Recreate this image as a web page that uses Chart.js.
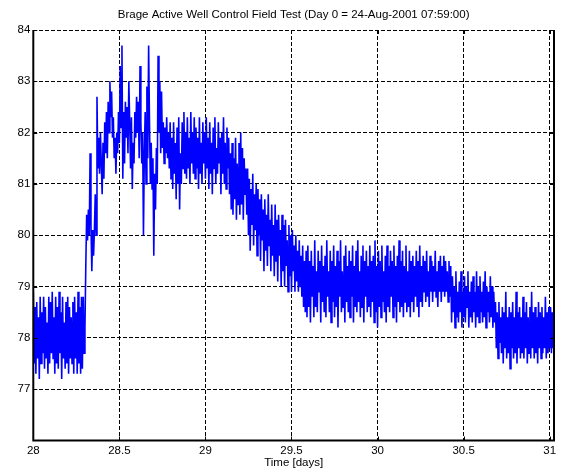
<!DOCTYPE html>
<html>
<head>
<meta charset="utf-8">
<script src="https://cdn.jsdelivr.net/npm/chart.js@4"></script>
<style>
  html, body { margin: 0; padding: 0; background: #fff; }
  canvas { display: block; }
</style>
</head>
<body>
<canvas id="wellChart" width="563" height="473"></canvas>
<script>
const chartTitle = 'Brage Active Well Control Field Test (Day 0 = 24-Aug-2001 07:59:00)';
const xLabel = 'Time [days]';

// logged samples: first one at day 28, then one every 0.005 day
const startDay = 28;
const stepDays = 0.005;
const pressure = [
    // 28.00
    78.9, 77.5, 78.6, 77.3, 78.7, 77.6, 78.4, 77.2, 78.8, 77.5,
    78.5, 77.7, 78.8, 77.4, 78.6, 77.6, 78.3, 77.3, 78.8, 77.5,
    78.7, 77.7, 78.9, 77.6, 78.4, 77.3, 78.8, 77.5, 78.6, 77.4,
    78.9, 77.7, 78.5, 77.2, 78.8, 77.6, 78.3, 77.4, 78.7, 77.5,
    78.8, 77.3, 78.6, 77.6, 78.4, 77.5, 78.7, 77.3, 78.8, 77.6,
    78.5, 77.3, 78.9, 77.5, 78.6, 77.3, 78.8, 77.4, 78.8, 77.7,
    // 28.30
    78.2, 79.4, 80.4, 79.9, 80.5, 80.0, 81.6, 80.2, 79.3, 80.1,
    79.6, 80.1, 80.8, 80.0, 82.7, 81.3, 81.9, 81.2, 82.0, 81.4,
    80.8, 81.8, 81.1, 82.2, 81.6, 82.4, 81.5, 82.6, 82.0, 83.0,
    82.3, 82.8, 81.9, 82.3, 81.5, 81.9, 81.2, 82.0, 81.6, 82.4,
    // 28.50
    81.8, 83.3, 82.1, 83.7, 81.1, 82.4, 81.4, 82.6, 81.9, 82.5,
    81.6, 83.0, 82.2, 81.3, 82.3, 80.9, 81.8, 81.4, 82.4, 81.9,
    82.7, 82.0, 82.6, 81.5, 83.3, 82.2, 81.4, 82.0, 80.0, 81.6,
    82.4, 81.0, 82.9, 81.5, 83.7, 82.2, 81.0, 81.8, 80.9, 81.5,
    79.6, 81.2, 80.5, 81.7, 81.0, 83.5, 82.0, 83.0, 81.6, 82.8,
    // 28.75
    81.7, 82.2, 81.4, 82.1, 81.6, 82.3, 81.5, 82.0, 81.3, 82.2,
    81.1, 81.9, 80.9, 82.2, 81.2, 81.8, 80.7, 82.1, 81.0, 82.3,
    80.5, 81.6, 81.0, 82.2, 81.3, 82.4, 81.2, 82.0, 81.1, 82.3,
    81.3, 81.9, 81.0, 82.4, 81.4, 82.0, 81.2, 82.3, 81.1, 82.1,
    81.3, 81.9, 80.9, 82.3, 81.2, 81.8, 81.0, 82.2, 81.4, 82.0,
    // 29.00
    81.1, 82.3, 81.3, 81.9, 80.9, 82.2, 81.2, 81.8, 80.8, 82.1,
    81.3, 82.3, 81.0, 81.7, 81.2, 82.2, 81.4, 81.9, 80.8, 82.0,
    81.2, 82.3, 81.0, 81.8, 80.9, 82.1, 81.3, 81.9, 80.8, 81.6,
    80.5, 81.8, 80.4, 81.5, 80.7, 81.9, 80.3, 81.4, 80.6, 81.8,
    80.4, 82.0, 80.6, 81.7, 80.3, 81.5, 80.8, 81.3, 80.4, 81.3,
    // 29.25
    80.0, 81.1, 79.7, 80.9, 80.2, 81.2, 79.8, 80.8, 80.1, 81.0,
    79.6, 80.9, 80.0, 80.7, 79.5, 80.8, 79.9, 80.5, 79.3, 80.7,
    79.7, 80.4, 79.4, 80.8, 79.8, 80.3, 79.3, 80.6, 79.6, 80.2,
    79.2, 80.6, 79.5, 80.3, 79.1, 80.4, 79.6, 80.1, 79.0, 80.4,
    79.3, 80.2, 79.0, 80.3, 79.4, 79.9, 78.9, 80.2, 79.2, 80.0,
    // 29.50
    78.9, 80.1, 79.3, 79.8, 78.9, 80.0, 79.1, 79.7, 78.9, 79.9,
    79.0, 79.6, 78.8, 79.8, 78.6, 79.5, 78.5, 79.7, 78.4, 79.8,
    78.6, 79.5, 78.3, 79.7, 78.8, 79.4, 78.4, 79.9, 78.6, 79.3,
    78.5, 79.7, 78.9, 79.5, 78.3, 79.8, 78.7, 79.4, 78.5, 79.6,
    78.4, 79.9, 78.8, 79.3, 78.5, 79.7, 78.3, 79.5, 78.7, 79.8,
    // 29.75
    78.4, 79.4, 78.6, 79.7, 78.2, 79.5, 78.8, 79.9, 78.5, 79.3,
    78.6, 79.6, 78.3, 79.8, 78.7, 79.4, 78.5, 79.7, 78.4, 79.5,
    78.8, 79.8, 78.3, 79.4, 78.6, 79.7, 78.5, 79.9, 78.7, 79.3,
    78.4, 79.6, 78.6, 79.8, 78.3, 79.5, 78.8, 79.7, 78.5, 79.4,
    78.6, 79.8, 78.4, 79.5, 78.7, 79.6, 78.3, 79.9, 78.5, 79.4,
    // 30.00
    78.2, 79.7, 78.6, 79.5, 78.4, 79.8, 78.7, 79.3, 78.5, 79.6,
    78.3, 79.8, 78.6, 79.4, 78.5, 79.7, 78.8, 79.5, 78.4, 79.8,
    78.6, 79.4, 78.3, 79.6, 78.7, 79.9, 78.5, 79.5, 78.6, 79.7,
    78.4, 79.4, 78.7, 79.8, 78.5, 79.3, 78.6, 79.7, 78.4, 79.5,
    78.7, 79.6, 78.5, 79.4, 78.8, 79.7, 78.6, 79.5, 78.4, 79.8,
    // 30.25
    78.7, 79.4, 78.6, 79.6, 78.9, 79.5, 78.7, 79.7, 78.8, 79.3,
    78.6, 79.6, 78.9, 79.5, 78.7, 79.4, 78.9, 79.7, 78.8, 79.3,
    78.6, 79.5, 78.9, 79.6, 78.7, 79.4, 78.9, 79.6, 78.8, 79.5,
    78.9, 79.3, 78.7, 79.5, 78.8, 79.4, 78.3, 79.2, 78.5, 79.0,
    78.2, 79.3, 78.4, 78.9, 78.3, 79.1, 78.5, 79.3, 78.2, 78.9,
    // 30.50
    78.4, 79.2, 78.3, 79.0, 78.6, 79.3, 78.2, 78.9, 78.4, 79.1,
    78.3, 79.2, 78.5, 78.9, 78.2, 79.3, 78.4, 79.0, 78.3, 79.2,
    78.5, 78.9, 78.3, 79.1, 78.4, 79.3, 78.2, 79.0, 78.5, 78.9,
    78.3, 79.2, 78.4, 79.0, 78.2, 78.9, 78.3, 78.7, 77.8, 78.5,
    77.6, 78.7, 77.9, 78.4, 77.7, 78.6, 77.5, 78.5, 77.8, 78.9,
    // 30.75
    77.6, 78.4, 77.7, 78.6, 77.4, 78.5, 77.8, 78.7, 77.6, 78.4,
    77.7, 78.9, 77.5, 78.5, 77.8, 78.6, 77.6, 78.4, 77.7, 78.8,
    77.6, 78.5, 77.8, 78.7, 77.5, 78.4, 77.7, 78.6, 77.6, 78.9,
    77.8, 78.5, 77.6, 78.6, 77.7, 78.4, 77.5, 78.7, 77.8, 78.5,
    77.6, 78.6, 77.7, 78.4, 77.8, 78.8, 77.6, 78.5, 77.7, 78.6,
    // 31.00
    77.8, 78.6, 77.7, 78.5, 77.8, 78.6
];

const xRange = [28, 31.025];
const yRange = [76, 84];
const xTicks = [28, 28.5, 29, 29.5, 30, 30.5, 31];
const yTicks = [77, 78, 79, 80, 81, 82, 83, 84];

const points = pressure.map((v, i) => ({ x: startDay + i * stepDays, y: v }));

const fontFamily = '"Liberation Sans", Arial, sans-serif';

// matlab style box: solid left/right/bottom edges, inward ticks, title over the axes
const axesBox = {
    id: 'axesBox',
    afterDraw(chart) {
        const { ctx, chartArea: a, scales } = chart;
        ctx.save();
        ctx.strokeStyle = '#000';
        ctx.lineWidth = 1;
        ctx.beginPath();
        xTicks.forEach(v => {
            const px = Math.round(scales.x.getPixelForValue(v)) + 0.5;
            ctx.moveTo(px, a.bottom); ctx.lineTo(px, a.bottom - 4);
            ctx.moveTo(px, a.top); ctx.lineTo(px, a.top + 4);
        });
        yTicks.forEach(v => {
            const py = Math.round(scales.y.getPixelForValue(v)) + 0.5;
            ctx.moveTo(a.left, py); ctx.lineTo(a.left + 4, py);
            ctx.moveTo(a.right, py); ctx.lineTo(a.right - 4, py);
        });
        ctx.stroke();

        ctx.lineWidth = 2;
        ctx.beginPath();
        ctx.moveTo(a.left, a.top);
        ctx.lineTo(a.left, a.bottom);
        ctx.lineTo(a.right, a.bottom);
        ctx.lineTo(a.right, a.top);
        ctx.stroke();

        ctx.fillStyle = '#000';
        ctx.font = '11.5px ' + fontFamily;
        ctx.textAlign = 'center';
        ctx.textBaseline = 'middle';
        ctx.fillText(chartTitle, (a.left + a.right) / 2, 15);
        ctx.restore();
    }
};

const ctx = document.getElementById('wellChart').getContext('2d');
new Chart(ctx, {
    type: 'line',
    data: {
        datasets: [{
            data: points,
            borderColor: '#0000ff',
            borderWidth: 1.6,
            pointRadius: 0,
            tension: 0,
            fill: false
        }]
    },
    options: {
        responsive: false,
        animation: false,
        events: [],
        layout: { padding: { top: 30, right: 9, bottom: 0, left: 0 } },
        plugins: {
            legend: { display: false },
            tooltip: { enabled: false },
            title: { display: false }
        },
        scales: {
            x: {
                type: 'linear',
                min: xRange[0],
                max: xRange[1],
                afterBuildTicks: s => { s.ticks = xTicks.map(v => ({ value: v })); },
                afterFit: s => { s.height = 32.5; },
                grid: { color: '#000', lineWidth: 1, drawTicks: false },
                border: { display: false, dash: [4, 2] },
                ticks: {
                    color: '#000',
                    padding: 3,
                    maxRotation: 0,
                    font: { family: fontFamily, size: 11.5 },
                    callback: v => String(v)
                },
                title: {
                    display: true,
                    text: xLabel,
                    color: '#000',
                    font: { family: fontFamily, size: 11.5 },
                    padding: { top: 0, bottom: 3 }
                }
            },
            y: {
                min: yRange[0],
                max: yRange[1],
                afterBuildTicks: s => { s.ticks = yTicks.map(v => ({ value: v })); },
                afterFit: s => { s.width = 33.3; },
                grid: { color: '#000', lineWidth: 1, drawTicks: false },
                border: { display: false, dash: [4, 2] },
                ticks: {
                    color: '#000',
                    padding: 3,
                    font: { family: fontFamily, size: 11.5 },
                    callback: v => String(v)
                }
            }
        }
    },
    plugins: [axesBox]
});
</script>
</body>
</html>
